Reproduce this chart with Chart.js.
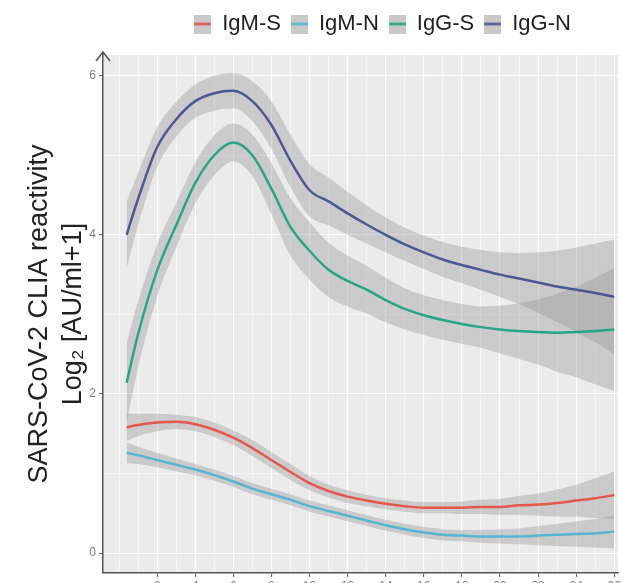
<!DOCTYPE html>
<html>
<head>
<meta charset="utf-8">
<script src="https://cdn.jsdelivr.net/npm/chart.js@4.4.1/dist/chart.umd.min.js"></script>
<style>
  html, body { margin: 0; padding: 0; background: #fff; overflow: hidden; }
  canvas { display: block; }
</style>
</head>
<body>
<canvas id="chart" width="623" height="600"></canvas>
<script>
// days after onset (x)
const days = [0.4, 1, 2, 3, 4, 5, 6, 7, 8, 9, 10, 11, 12, 13, 14, 15, 16, 17, 18, 19, 20, 21, 22, 23, 24, 25, 26];

const seriesNames = ["IgM-S", "IgM-N", "IgG-S", "IgG-N"];
const seriesColors = ["#e5574c", "#56b6d2", "#27a586", "#4b5897"];

// fitted curves (log2 AU/ml+1)
const igmS = [1.58, 1.61, 1.64, 1.65, 1.62, 1.55, 1.45, 1.32, 1.17, 1.02, 0.88, 0.78, 0.71, 0.66, 0.62, 0.59, 0.57, 0.57, 0.57, 0.58, 0.58, 0.60, 0.61, 0.63, 0.66, 0.69, 0.73];
const igmN = [1.26, 1.23, 1.17, 1.11, 1.05, 0.98, 0.90, 0.81, 0.74, 0.67, 0.59, 0.53, 0.47, 0.41, 0.35, 0.30, 0.26, 0.23, 0.22, 0.21, 0.21, 0.21, 0.22, 0.23, 0.24, 0.25, 0.27];
const iggS = [2.14, 2.75, 3.55, 4.12, 4.65, 5.00, 5.16, 5.00, 4.58, 4.10, 3.80, 3.56, 3.42, 3.31, 3.18, 3.07, 2.99, 2.93, 2.88, 2.84, 2.81, 2.79, 2.78, 2.77, 2.78, 2.79, 2.81];
const iggN = [4.00, 4.45, 5.10, 5.45, 5.68, 5.78, 5.81, 5.68, 5.38, 4.93, 4.56, 4.42, 4.27, 4.13, 4.00, 3.88, 3.78, 3.69, 3.62, 3.56, 3.50, 3.45, 3.40, 3.35, 3.31, 3.27, 3.22];

// half widths of the grey confidence bands
const igmSci = [0.17, 0.14, 0.11, 0.09, 0.09, 0.09, 0.09, 0.10, 0.10, 0.10, 0.09, 0.08, 0.08, 0.07, 0.07, 0.07, 0.07, 0.07, 0.08, 0.09, 0.10, 0.12, 0.14, 0.17, 0.20, 0.25, 0.30];
const igmNci = [0.13, 0.11, 0.09, 0.08, 0.07, 0.07, 0.07, 0.07, 0.07, 0.07, 0.07, 0.07, 0.07, 0.07, 0.07, 0.07, 0.07, 0.07, 0.07, 0.08, 0.09, 0.10, 0.12, 0.14, 0.16, 0.18, 0.21];
const iggSci = [0.50, 0.42, 0.33, 0.28, 0.26, 0.25, 0.24, 0.26, 0.32, 0.36, 0.36, 0.34, 0.32, 0.30, 0.28, 0.26, 0.25, 0.25, 0.25, 0.26, 0.30, 0.35, 0.41, 0.49, 0.57, 0.67, 0.77];
const iggNci = [0.42, 0.33, 0.25, 0.22, 0.21, 0.22, 0.22, 0.25, 0.30, 0.33, 0.33, 0.30, 0.27, 0.24, 0.22, 0.21, 0.21, 0.22, 0.23, 0.25, 0.28, 0.32, 0.38, 0.45, 0.53, 0.62, 0.72];

const xTicks = [0, 1, 2, 3, 4, 5, 6, 7, 8, 9, 10, 11, 12, 13, 14, 15, 16, 17, 18, 19, 20, 21, 22, 23, 24, 25, 26];
const yTicks = [0, 1, 2, 3, 4, 5, 6];

const curves = [igmS, igmN, iggS, iggN];
const bands = [igmSci, igmNci, iggSci, iggNci];

// little grey legend keys with the coloured line through them
function makeKey(color) {
    const c = document.createElement("canvas");
    c.width = 17; c.height = 19;
    const g = c.getContext("2d");
    g.fillStyle = "#c9c9c9";
    g.fillRect(0, 0, 17, 19);
    g.strokeStyle = color;
    g.lineWidth = 2.5;
    g.beginPath(); g.moveTo(0, 9.5); g.lineTo(17, 9.5); g.stroke();
    return c;
}

const datasets = [];
bands.forEach((ci, s) => {
    const ys = curves[s];
    datasets.push({
        data: days.map((d, i) => ({x: d, y: ys[i] + ci[i]})),
        borderWidth: 0, pointRadius: 0, fill: "+1",
        backgroundColor: "rgba(150,150,150,0.38)",
        cubicInterpolationMode: "monotone", order: 1
    });
    datasets.push({
        data: days.map((d, i) => ({x: d, y: ys[i] - ci[i]})),
        borderWidth: 0, pointRadius: 0, fill: false,
        cubicInterpolationMode: "monotone", order: 1
    });
});
curves.forEach((ys, s) => {
    datasets.push({
        label: seriesNames[s],
        data: days.map((d, i) => ({x: d, y: ys[i]})),
        borderColor: seriesColors[s],
        borderWidth: 2.5, pointRadius: 0, fill: false,
        cubicInterpolationMode: "monotone", order: 0,
        keyImage: makeKey(seriesColors[s])
    });
});

// grey panel + arrow on the y axis
const panelPlugin = {
    id: "panel",
    afterLayout(chart) {
        // nudge the legend to where ggplot put it
        const lg = chart.legend;
        lg.left += 22; lg.right += 22;
        lg.top -= 10; lg.bottom -= 10;
    },
    beforeDraw(chart) {
        const a = chart.chartArea, ctx = chart.ctx;
        ctx.save();
        ctx.fillStyle = "#ebebeb";
        ctx.fillRect(a.left, a.top, a.right - a.left, a.bottom - a.top);
        ctx.restore();
    },
    afterDraw(chart) {
        const a = chart.chartArea, ctx = chart.ctx;
        const x = a.left, top = a.top - 3;
        ctx.save();
        ctx.strokeStyle = "#555";
        ctx.lineWidth = 1.5;
        ctx.beginPath();
        ctx.moveTo(x, a.top); ctx.lineTo(x, top);
        ctx.moveTo(x - 7, top + 9); ctx.lineTo(x, top); ctx.lineTo(x + 7, top + 9);
        ctx.stroke();
        ctx.restore();
    }
};

Chart.defaults.font.family = "'Liberation Sans', Arial, sans-serif";

new Chart(document.getElementById("chart"), {
    type: "line",
    data: { datasets },
    options: {
        responsive: false,
        animation: false,
        devicePixelRatio: 1,
        layout: { padding: { top: 13, right: 3, left: 0, bottom: 0 } },
        plugins: {
            tooltip: { enabled: false },
            legend: {
                position: "top",
                fullSize: false,
                labels: {
                    usePointStyle: true,
                    boxWidth: 17,
                    padding: 10,
                    color: "#222",
                    font: { size: 22 },
                    generateLabels: chart => chart.data.datasets
                        .map((ds, i) => ({ds, i}))
                        .filter(o => o.ds.keyImage)
                        .map(o => ({ text: o.ds.label, pointStyle: o.ds.keyImage, datasetIndex: o.i, hidden: false, lineWidth: 0, fontColor: "#222" }))
                }
            }
        },
        scales: {
            x: {
                type: "linear",
                min: -0.84, max: 26.2,
                afterBuildTicks: s => { s.ticks = xTicks.map(v => ({value: v})); },
                afterFit: s => { s.height = 27; },
                ticks: {
                    color: "#7f7f7f", font: { size: 12 }, padding: 2, maxRotation: 0, autoSkip: false,
                    callback: v => (v >= 2 && v % 2 === 0) ? String(v) : ""
                },
                grid: {
                    color: "#ffffff",
                    lineWidth: c => (c.tick && c.tick.value % 2 === 0 && c.tick.value > 0) ? 1.1 : 0.5,
                    tickLength: 4,
                    tickColor: c => (c.tick && c.tick.value % 2 === 0 && c.tick.value > 0) ? "#666" : "rgba(0,0,0,0)"
                },
                border: { display: true, color: "#555", width: 1.5 }
            },
            y: {
                type: "linear",
                min: -0.25, max: 6.26,
                afterBuildTicks: s => { s.ticks = yTicks.map(v => ({value: v})); },
                afterFit: s => { s.width = 103; },
                ticks: {
                    color: "#7f7f7f", font: { size: 12 }, padding: 3,
                    callback: v => v % 2 === 0 ? String(v) : ""
                },
                grid: {
                    color: "#ffffff",
                    lineWidth: c => (c.tick && c.tick.value % 2 === 0) ? 1.1 : 0.5,
                    tickLength: 4,
                    tickColor: c => (c.tick && c.tick.value % 2 === 0) ? "#666" : "rgba(0,0,0,0)"
                },
                border: { display: true, color: "#555", width: 1.5 },
                title: {
                    display: true,
                    text: ["SARS-CoV-2 CLIA reactivity", "Log\u2082 [AU/ml+1]"],
                    color: "#222",
                    font: { size: 27, lineHeight: 1.25 },
                    padding: { top: 23, bottom: 0 }
                }
            }
        }
    },
    plugins: [panelPlugin]
});
</script>
</body>
</html>
